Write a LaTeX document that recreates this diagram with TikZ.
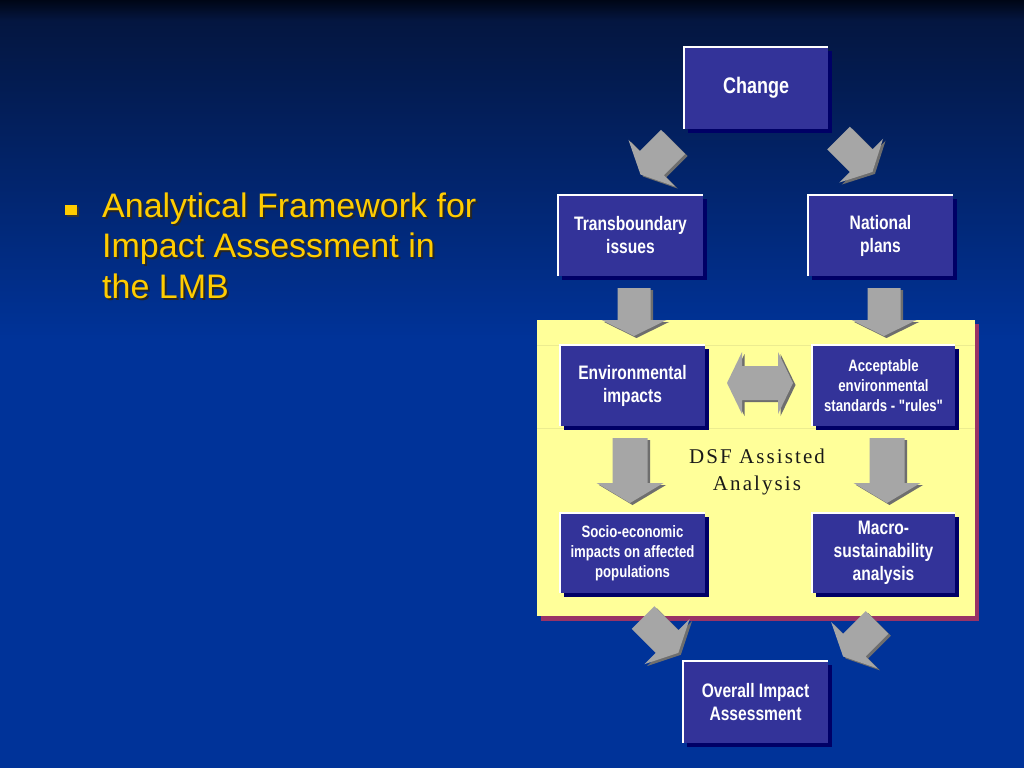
\documentclass[tikz,border=0pt]{standalone}
\usepackage{fontspec}
\setmainfont{Liberation Sans}
\newfontfamily\boxfont[FakeStretch=0.8]{Liberation Sans}
\newfontfamily\dsffont[LetterSpace=10]{Liberation Serif}
\definecolor{bgblue}{HTML}{003399}
\definecolor{bgtop}{HTML}{000616}
\definecolor{bgmid}{HTML}{041640}
\definecolor{facec}{HTML}{333399}
\definecolor{navyc}{HTML}{000066}
\definecolor{panelc}{HTML}{FFFF99}
\definecolor{panelline}{HTML}{ECEC90}
\definecolor{maroonc}{HTML}{993366}
\definecolor{arrface}{HTML}{A6A6A6}
\definecolor{arrside}{HTML}{6E6E6E}
\definecolor{titlec}{HTML}{FFCC00}
\newcommand{\blockarr}[7]{%
  \begin{scope}[shift={({#1+2.5},{#2+2})},rotate=#3]
    \fill[arrside] (0,-#5)--(#4,-#5)--(#4,-#6)--({#4+#7},0)--(#4,#6)--(#4,#5)--(0,#5)--cycle;
  \end{scope}
  \begin{scope}[shift={(#1,#2)},rotate=#3]
    \fill[arrface] (0,-#5)--(#4,-#5)--(#4,-#6)--({#4+#7},0)--(#4,#6)--(#4,#5)--(0,#5)--cycle;
  \end{scope}}
\begin{document}
\begin{tikzpicture}[x=1pt,y=-1pt,
  box/.style={rectangle, fill=facec, inner sep=0pt, align=center, text=white,
    preaction={fill=navyc, transform canvas={shift={(4pt,-4pt)}}}},
  bigtxt/.style={font=\boxfont\bfseries\fontsize{19.5}{23}\selectfont},
  smalltxt/.style={font=\boxfont\bfseries\fontsize{16.5}{20}\selectfont},
  hl/.style={draw=white, line width=2.5pt},
  title/.style={anchor=base west, inner sep=0pt, font=\fontsize{34}{40}\selectfont}]
\useasboundingbox (0,0) rectangle (1024,768);
% background
\fill[bgblue] (0,0) rectangle (1024,768);
\shade[top color=bgmid, bottom color=bgblue] (0,20) rectangle (1024,340);
\shade[top color=bgtop, bottom color=bgmid] (0,0) rectangle (1024,20.5);
% yellow panel
\fill[maroonc] (541,324) rectangle (979,621);
\fill[panelc] (537,320) rectangle (975,616);
\draw[panelline, line width=0.8pt] (537,345) -- (975,345);
\draw[panelline, line width=0.8pt] (537,428) -- (975,428);
% boxes
\node[box, bigtxt, minimum width=144pt, minimum height=82pt, font=\boxfont\bfseries\fontsize{22.5}{26}\selectfont] (chg) at (756,88) {Change};
\node[box, bigtxt, minimum width=145pt, minimum height=81pt] (trans) at (630.5,235.5) {Transboundary\\issues};
\node[box, bigtxt, minimum width=145pt, minimum height=81pt] (nat) at (880.5,235.5) {National\\plans};
\node[box, bigtxt, minimum width=145pt, minimum height=81pt] (env) at (632.5,385.5) {Environmental\\impacts};
\node[box, smalltxt, minimum width=143pt, minimum height=81pt] (acc) at (883.5,385.5) {Acceptable\\environmental\\standards - "rules"};
\node[box, smalltxt, minimum width=145pt, minimum height=80pt] (soc) at (632.5,553) {Socio-economic\\impacts on affected\\populations};
\node[box, bigtxt, minimum width=143pt, minimum height=80pt] (mac) at (883.5,553) {Macro-\\sustainability\\analysis};
\node[box, bigtxt, minimum width=145pt, minimum height=82pt] (ovr) at (755.5,702) {Overall Impact\\Assessment};
\foreach \n in {chg,trans,nat,env,acc,soc,mac,ovr}
  \draw[hl] (\n.south west) -- (\n.north west) -- (\n.north east);
% block arrows
\blockarr{673}{142}{-135}{30}{17}{33}{16}
\blockarr{838.5}{138}{-45}{32}{16}{31}{16}
\blockarr{634}{288}{-90}{32}{16.5}{32.5}{16}
\blockarr{884}{288}{-90}{32}{16.5}{32.5}{16}
\blockarr{630}{438}{-90}{45}{17.5}{33.5}{20}
\blockarr{887}{438}{-90}{45}{17.5}{33.5}{20}
\blockarr{643}{617.5}{-45}{34}{16}{32}{16}
\blockarr{877}{622.5}{-135}{32}{16}{33}{16}
% double arrow
\fill[arrside] (729.5,385)--(744.5,354)--(744.5,368)--(780.5,368)--(780.5,354)--(795.5,385)--(780.5,416)--(780.5,402)--(744.5,402)--(744.5,416)--cycle;
\fill[arrface] (727,383)--(742,352)--(742,366)--(778,366)--(778,352)--(793,383)--(778,414)--(778,400)--(742,400)--(742,414)--cycle;
% DSF label
\node[font=\dsffont\fontsize{21}{27}\selectfont, align=center, text=black!90] (dsf) at (757,472) {DSF Assisted\\Analysis};
% title bullet and text
\fill[black!80] (67,207) rectangle (79,217);
\fill[titlec] (65,205) rectangle (77,215);
\node[title, text=black!85] at (104,219) {Analytical Framework for};
\node[title, text=black!85] at (104,259) {Impact Assessment in};
\node[title, text=black!85] at (104,300) {the LMB};
\node[title, text=titlec] (t1) at (102,217) {Analytical Framework for};
\node[title, text=titlec] (t2) at (102,257) {Impact Assessment in};
\node[title, text=titlec] (t3) at (102,298) {the LMB};
\end{tikzpicture}
\end{document}
